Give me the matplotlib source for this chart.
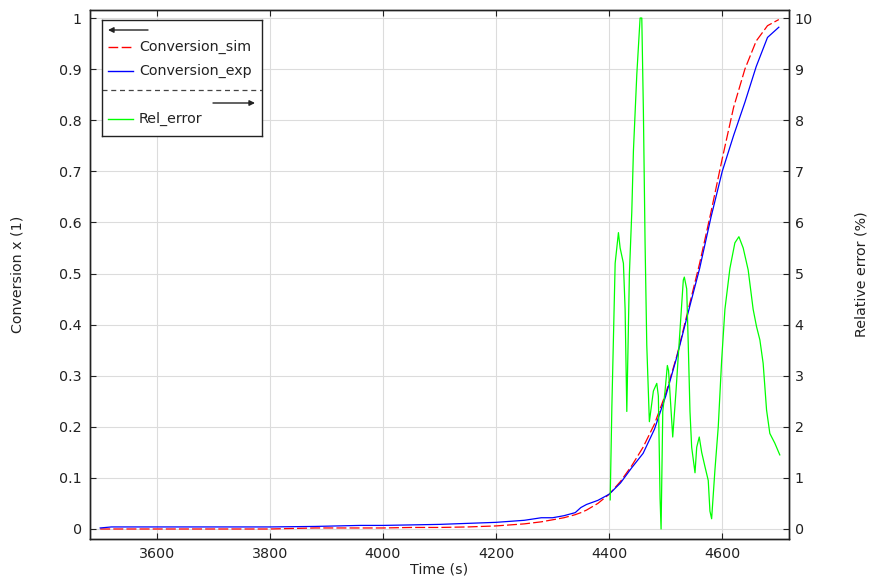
import matplotlib
matplotlib.use("Agg")
import matplotlib.pyplot as plt
from matplotlib.ticker import MultipleLocator, FormatStrFormatter

# ---- data ----
t_conv = [3500, 3520, 3600, 3700, 3800, 3880, 3960, 4000, 4050, 4100, 4150, 4200,
          4250, 4280, 4300, 4320, 4340, 4350, 4360, 4380, 4400, 4420, 4440, 4460,
          4480, 4500, 4520, 4540, 4560, 4580, 4600, 4620, 4640, 4660, 4680, 4700]
conv_sim = [0.0, 0.0, 0.0, 0.0, 0.0, 0.002, 0.002, 0.002, 0.003, 0.003, 0.004, 0.006,
            0.010, 0.014, 0.018, 0.022, 0.028, 0.032, 0.037, 0.050, 0.068, 0.093, 0.124, 0.160,
            0.205, 0.265, 0.340, 0.430, 0.520, 0.620, 0.725, 0.825, 0.900, 0.955, 0.985, 0.997]
conv_exp = [0.002, 0.004, 0.004, 0.004, 0.004, 0.005, 0.007, 0.007, 0.008, 0.009, 0.011, 0.013,
            0.017, 0.022, 0.022, 0.026, 0.032, 0.042, 0.048, 0.056, 0.068, 0.090, 0.120, 0.148,
            0.195, 0.260, 0.338, 0.425, 0.510, 0.610, 0.700, 0.770, 0.835, 0.905, 0.962, 0.982]

t_err = [4401.8, 4404.8, 4410.6, 4416.4, 4419.4, 4425.2, 4428.2, 4431.2, 4435.8, 4440.0,
         4442.9, 4448.9, 4454.7, 4457.7, 4460.5, 4463.5, 4466.5, 4471.1, 4478.2, 4484.2,
         4487.0, 4490.0, 4491.8, 4494.8, 4498.8, 4502.9, 4505.0, 4507.6, 4512.4, 4518.2,
         4522.3, 4526.5, 4531.1, 4532.9, 4537.1, 4539.9, 4542.9, 4545.9, 4551.8, 4554.8,
         4559.3, 4563.6, 4569.4, 4575.2, 4578.2, 4581.2, 4587.0, 4592.9, 4598.9, 4604.7,
         4613.5, 4622.3, 4629.4, 4637.0, 4645.8, 4654.6, 4660.6, 4666.5, 4672.3, 4678.3,
         4684.1, 4692.9, 4701.7]
rel_err = [0.57, 2.4, 5.2, 5.8, 5.5, 5.2, 4.3, 2.3, 5.0, 6.2,
           7.4, 8.9, 10.0, 10.0, 8.2, 5.6, 3.6, 2.1, 2.7, 2.85,
           2.6, 0.6, 0.0, 2.3, 2.7, 3.2, 3.1, 2.65, 1.8, 2.7,
           3.4, 4.1, 4.87, 4.93, 4.7, 3.6, 2.3, 1.6, 1.1, 1.6,
           1.8, 1.5, 1.22, 0.95, 0.35, 0.2, 1.15, 2.0, 3.3, 4.3,
           5.1, 5.6, 5.72, 5.5, 5.07, 4.3, 3.96, 3.7, 3.24, 2.33,
           1.87, 1.68, 1.45]

x_ticks = [3600, 3800, 4000, 4200, 4400, 4600]
y_ticks = [0, 0.1, 0.2, 0.3, 0.4, 0.5, 0.6, 0.7, 0.8, 0.9, 1]
y_ticklabels = ['0', '0.1', '0.2', '0.3', '0.4', '0.5', '0.6', '0.7', '0.8', '0.9', '1']
y2_ticks = [0, 1, 2, 3, 4, 5, 6, 7, 8, 9, 10]

FS = 10.3
TXT = '#222222'

# ---- figure ----
fig = plt.figure(figsize=(8.72, 5.84), dpi=100)
ax = fig.add_axes([90/872, 1-539/584, 699/872, 529/584])
ax2 = ax.twinx()

ax.plot(t_conv, conv_sim, color="#ff0000", lw=0.9, dashes=(8, 2.5))
ax.plot(t_conv, conv_exp, color="#0000ff", lw=0.9)
ax2.plot(t_err, rel_err, color="#00ff00", lw=0.9)

ax.set_xlim(3482, 4718)
ax.set_ylim(-0.0196, 1.0157)
ax2.set_ylim(-0.196, 10.157)
ax.set_xticks(x_ticks)
ax.set_yticks(y_ticks)
ax.set_yticklabels(y_ticklabels)
ax2.set_yticks(y2_ticks)
ax2.yaxis.set_major_formatter(FormatStrFormatter('%g'))

ax.grid(True, color="#dcdcdc", lw=0.8)
ax.set_axisbelow(True)
ax.tick_params(axis='x', direction='in', top=True, length=4, labelsize=FS, colors=TXT, pad=6)
ax.tick_params(axis='y', direction='in', length=4, labelsize=FS, colors=TXT, pad=6)
ax2.tick_params(axis='y', direction='in', length=4, labelsize=FS, colors=TXT, pad=4)
for a in (ax, ax2):
    for s in a.spines.values():
        s.set_color(TXT)
        s.set_linewidth(1.0)

ax.set_xlabel("Time (s)", fontsize=FS, color=TXT)
ax.xaxis.set_label_coords(0.5, -0.045)
ax.set_ylabel("Conversion x (1)", fontsize=FS, color=TXT)
ax.yaxis.set_label_coords(-0.093, 0.5)
ax2.set_ylabel("Relative error (%)", fontsize=FS, color=TXT)
ax2.yaxis.set_label_coords(1.094, 0.5)

# ---- custom legend ----
lg = fig.add_axes([102/872, 1-136/584, 160/872, 116/584])
lg.set_xlim(0, 160)
lg.set_ylim(116, 0)
lg.set_xticks([])
lg.set_yticks([])
lg.set_facecolor('white')
for s in lg.spines.values():
    s.set_color(TXT)
    s.set_linewidth(1.0)
arr = dict(arrowstyle='-|>', lw=1.0, color=TXT, mutation_scale=8, shrinkA=0, shrinkB=0)
lg.annotate('', xy=(6, 10), xytext=(46, 10), arrowprops=arr)
lg.plot([6, 31], [27, 27], color="#ff0000", lw=1.0, dashes=(7, 2.5))
lg.text(37, 27, "Conversion_sim", va='center', ha='left', fontsize=FS, color=TXT)
lg.plot([6, 31], [51, 51], color="#0000ff", lw=1.0)
lg.text(37, 51, "Conversion_exp", va='center', ha='left', fontsize=FS, color=TXT)
lg.plot([0, 160], [70, 70], color='#444444', lw=0.9, dashes=(4, 3))
lg.annotate('', xy=(153, 83), xytext=(111, 83), arrowprops=arr)
lg.plot([6, 31], [99, 99], color="#00ff00", lw=1.0)
lg.text(37, 99, "Rel_error", va='center', ha='left', fontsize=FS, color=TXT)

fig.savefig("out.png", dpi=100)
